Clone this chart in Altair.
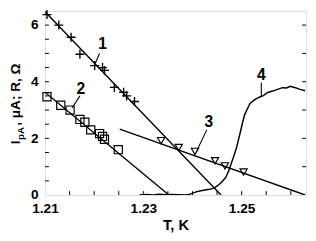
import altair as alt
import pandas as pd

# ---- data ----
# series 1 (+ markers)
p1_T = [1.2104, 1.2128, 1.2153, 1.2171, 1.2201, 1.2217, 1.2221, 1.2241, 1.2260, 1.2266, 1.2282]
p1_I = [6.37, 6.00, 5.57, 4.97, 4.57, 4.50, 4.40, 3.80, 3.63, 3.50, 3.30]
line1_T = [1.2100, 1.2458]
line1_I = [6.47, 0.0]

# series 2 (open squares)
sq_T = [1.2104, 1.2132, 1.2151, 1.2171, 1.2181, 1.2193, 1.2211, 1.2217, 1.2221, 1.2249]
sq_I = [3.47, 3.17, 3.00, 2.67, 2.57, 2.30, 2.17, 2.07, 1.97, 1.60]
line2_T = [1.2100, 1.2352]
line2_I = [3.63, 0.0]

# series 3 (open down-triangles)
tri_T = [1.2336, 1.2372, 1.2405, 1.2446, 1.2466, 1.2504]
tri_I = [1.92, 1.68, 1.54, 1.21, 1.03, 0.81]
line3_T = [1.2252, 1.2629]
line3_I = [2.33, 0.0]

# series 4 (R curve)
c4_T = [1.2292, 1.2306, 1.2320, 1.2332, 1.2346, 1.2359, 1.2371, 1.2385, 1.2395, 1.2409,
        1.2425, 1.2435, 1.2445, 1.2454, 1.2460, 1.2468, 1.2474, 1.2480, 1.2484, 1.2490,
        1.2497, 1.2502, 1.2506, 1.2511, 1.2517, 1.2524, 1.2530, 1.2538, 1.2544, 1.2553,
        1.2563, 1.2573, 1.2583, 1.2591, 1.2599, 1.2609, 1.2619, 1.2629]
c4_I = [0.00, 0.02, 0.00, 0.03, 0.01, 0.02, 0.01, 0.00, 0.03, 0.12,
        0.18, 0.20, 0.25, 0.37, 0.47, 0.63, 0.87, 1.17, 1.37, 1.70,
        2.20, 2.57, 2.83, 3.02, 3.23, 3.33, 3.40, 3.47, 3.51, 3.62,
        3.67, 3.73, 3.79, 3.78, 3.84, 3.79, 3.73, 3.68]

# curve numbers and their leader lines
lab_text = ["1", "2", "3", "4"]
lab_T = [1.2217, 1.2173, 1.2433, 1.2540]
lab_I = [5.32, 3.73, 2.57, 4.23]
lead_T1 = [1.2211, 1.2171, 1.2429, 1.2540]
lead_I1 = [5.00, 3.50, 2.30, 3.97]
lead_T2 = [1.2201, 1.2155, 1.2409, 1.2540]
lead_I2 = [4.60, 3.07, 1.57, 3.47]

# axes
x_labels = [1.21, 1.23, 1.25]
y_labels = [0, 2, 4, 6]
x_minor = [1.215, 1.22, 1.225, 1.23, 1.235, 1.24, 1.245, 1.25, 1.255, 1.26]
y_minor = [0.5, 1, 1.5, 2, 2.5, 3, 3.5, 4, 4.5, 5, 5.5, 6]
y_right = [1, 2, 3, 4, 5, 6]
x_title = "T, K"
y_title_parts = ["I", "pA", ", μA; R, Ω"]

FONT = "Liberation Sans"
W, H = 268, 189

xs = alt.Scale(domain=[1.21, 1.2631], nice=False, zero=False)
ys = alt.Scale(domain=[0, 6.5], nice=False, zero=False)

X = alt.X("T:Q", scale=xs,
          axis=alt.Axis(values=x_labels, format=".2f", title=x_title, ticks=False, domain=False,
                        grid=False, labelFlush=False, labelPadding=7, titlePadding=2,
                        labelFontSize=14, labelFontWeight="bold", titleFontSize=15,
                        titleFontWeight="bold", labelFont=FONT, titleFont=FONT,
                        labelColor="black", titleColor="black"))
Y = alt.Y("I:Q", scale=ys,
          axis=alt.Axis(values=y_labels, format="d", title=None, ticks=False, domain=False,
                        grid=False, labelPadding=7, labelFontSize=14, labelFontWeight="bold",
                        labelFont=FONT, labelColor="black"))

df_p1 = pd.DataFrame({"T": p1_T, "I": p1_I})
df_l1 = pd.DataFrame({"T": line1_T, "I": line1_I})
df_sq = pd.DataFrame({"T": sq_T, "I": sq_I})
df_l2 = pd.DataFrame({"T": line2_T, "I": line2_I})
df_tri = pd.DataFrame({"T": tri_T, "I": tri_I})
df_l3 = pd.DataFrame({"T": line3_T, "I": line3_I})
df_c4 = pd.DataFrame({"T": c4_T, "I": c4_I})
df_lab = pd.DataFrame({"T": lab_T, "I": lab_I, "txt": lab_text})
df_lead = pd.DataFrame({"T": lead_T1, "I": lead_I1, "T2": lead_T2, "I2": lead_I2})

base_line = dict(color="black", strokeWidth=1.4, clip=True)

lines = [
    alt.Chart(df_l1).mark_line(**base_line).encode(x=X, y=Y),
    alt.Chart(df_l2).mark_line(**base_line).encode(x=X, y=Y),
    alt.Chart(df_l3).mark_line(**base_line).encode(x=X, y=Y),
    alt.Chart(df_c4).mark_line(color="black", strokeWidth=1.5, clip=True).encode(x=X, y=Y),
]

plus = alt.Chart(df_p1).mark_point(shape="M-1,0L1,0M0,-1L0,1", size=85, filled=False,
                                   color="black", strokeWidth=1.4, opacity=1).encode(x=X, y=Y)
squares = alt.Chart(df_sq).mark_point(shape="square", size=70, filled=False,
                                      color="black", strokeWidth=1.2, opacity=1).encode(x=X, y=Y)
tris = alt.Chart(df_tri).mark_point(shape="triangle-down", size=55, filled=False,
                                    color="black", strokeWidth=1.2, opacity=1).encode(x=X, y=Y)

labels = alt.Chart(df_lab).mark_text(font=FONT, fontSize=16, fontWeight="bold", color="black",
                                     align="center", baseline="middle").encode(
    x=X, y=Y, text="txt:N")
leaders = alt.Chart(df_lead).mark_rule(color="black", strokeWidth=1.1).encode(
    x=X, y=Y, x2="T2:Q", y2="I2:Q")

# inward minor ticks
df_xm = pd.DataFrame({"T": x_minor})
df_ym = pd.DataFrame({"I": y_minor})
df_yr = pd.DataFrame({"I": y_right})
xticks = alt.Chart(df_xm).mark_rule(color="black", strokeWidth=1).encode(
    x=X, y=alt.value(H), y2=alt.value(H - 4))
yticks = alt.Chart(df_ym).mark_rule(color="black", strokeWidth=1).encode(
    y=Y, x=alt.value(0), x2=alt.value(4))
rticks = alt.Chart(df_yr).mark_rule(color="black", strokeWidth=1).encode(
    y=Y, x=alt.value(W), x2=alt.value(W - 4))

# y title with subscript, rotated
df_t1 = pd.DataFrame({"s": [y_title_parts[0]]})
df_t2 = pd.DataFrame({"s": [y_title_parts[1]]})
df_t3 = pd.DataFrame({"s": [y_title_parts[2]]})
t_main = dict(font=FONT, fontWeight="bold", color="black", angle=270, align="left",
              baseline="alphabetic")
yt1 = alt.Chart(df_t1).mark_text(fontSize=14, **t_main).encode(
    x=alt.value(-26), y=alt.value(137), text="s:N")
yt2 = alt.Chart(df_t2).mark_text(fontSize=10, **t_main).encode(
    x=alt.value(-22), y=alt.value(132.5), text="s:N")
yt3 = alt.Chart(df_t3).mark_text(fontSize=14, **t_main).encode(
    x=alt.value(-26), y=alt.value(118), text="s:N")

chart = alt.layer(
    *lines, plus, squares, tris, leaders, labels, xticks, yticks, rticks, yt1, yt2, yt3
).properties(
    width=W, height=H,
    autosize=alt.AutoSizeParams(type="none"),
    padding={"left": 38, "top": 0, "right": 2, "bottom": 36},
).configure_view(
    stroke="black", strokeWidth=1.7
).configure(background="white")

chart.save("out.html", embed_options={"renderer": "svg", "actions": False})
